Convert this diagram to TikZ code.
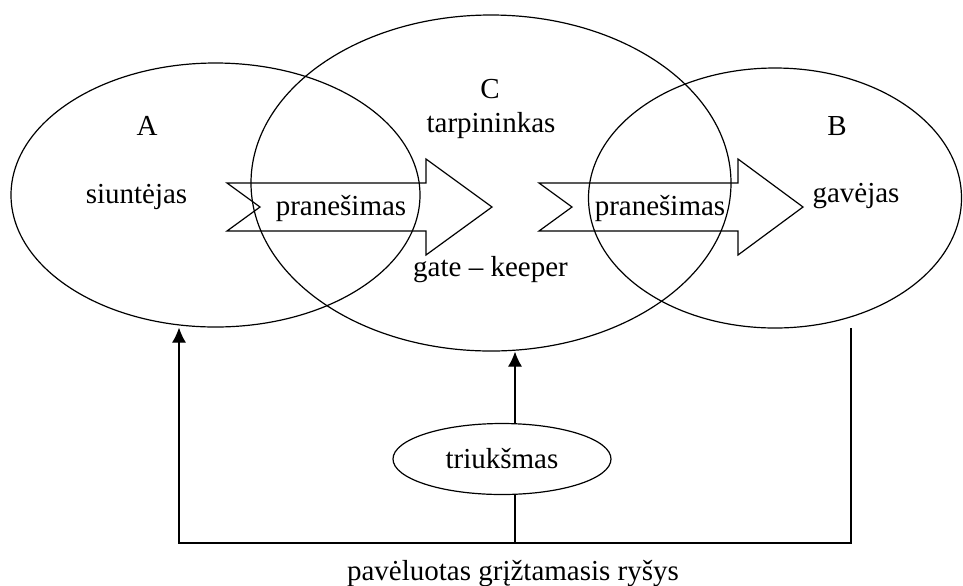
\documentclass[tikz,border=0pt]{standalone}
\usepackage{fontspec}
\setmainfont{Liberation Serif}
\usetikzlibrary{shapes.geometric,arrows.meta}

\begin{document}
\begin{tikzpicture}[x=0.5pt,y=-0.5pt,
    party/.style ={ellipse, draw, line width=0.6pt, inner sep=0pt},
    word/.style ={inner sep=0pt, anchor=base, font=\fontsize{14.5}{17}\selectfont},
    link/.style ={line width=0.6pt},
    feed/.style ={link, -{Latex[length=7.5pt,width=7pt]}}]
   \useasboundingbox (0,0) rectangle (963,585);
   % the three circles of the model
   \node[party, minimum width=204.5pt, minimum height=132pt] (A) at (215.5,195) {};
   \node[party, minimum width=240pt, minimum height=168pt] (C) at (491,183) {};
   \node[party, minimum width=186.5pt, minimum height=130pt] (B) at (775,198) {};
   \node[party, font=\fontsize{14.5}{17}\selectfont, minimum width=109pt, minimum height=35.5pt] (noise) at (502,459) {triukšmas};
   \node[word] (Alab) at (147,135) {A};
   \node[word] (send) at (136.5,203) {siuntėjas};
   \node[word] (Clab) at (490,98) {C};
   \node[word] (mid) at (491,132) {tarpininkas};
   \node[word] (Blab) at (837,135) {B};
   \node[word] (recv) at (856,202) {gavėjas};
   \node[word] (gate) at (490.5,276) {gate -- keeper};
   \node[word] (late) at (513,580) {pavėluotas grįžtamasis ryšys};
   % message arrows
   \draw[link] (227,183) -- (426,183) -- (426,159) -- (492,207) -- (426,255)
      -- (426,231) -- (227,231) -- (260,207) -- cycle;
   \draw[link] (539,183) -- (738,183) -- (738,159) -- (803,207) -- (738,255)
      -- (738,231) -- (539,231) -- (572,207) -- cycle;
   \node[word] (msg1) at (341,215) {pranešimas};
   \node[word] (msg2) at (660,215) {pranešimas};
   % feedback and noise
   \coordinate (Bout) at (851,328);
   \coordinate (corner right) at (851,543);
   \coordinate (corner left) at (179,543);
   \coordinate (tap) at (515,543);
   \draw[feed] (Bout) -- (corner right) -- (corner left) -- (corner left |- A.south);
   \draw[link] (tap |- noise.south) -- (tap);
   \draw[feed] (tap |- noise.north) -- (tap |- C.south);
 \end{tikzpicture}
\end{document}
